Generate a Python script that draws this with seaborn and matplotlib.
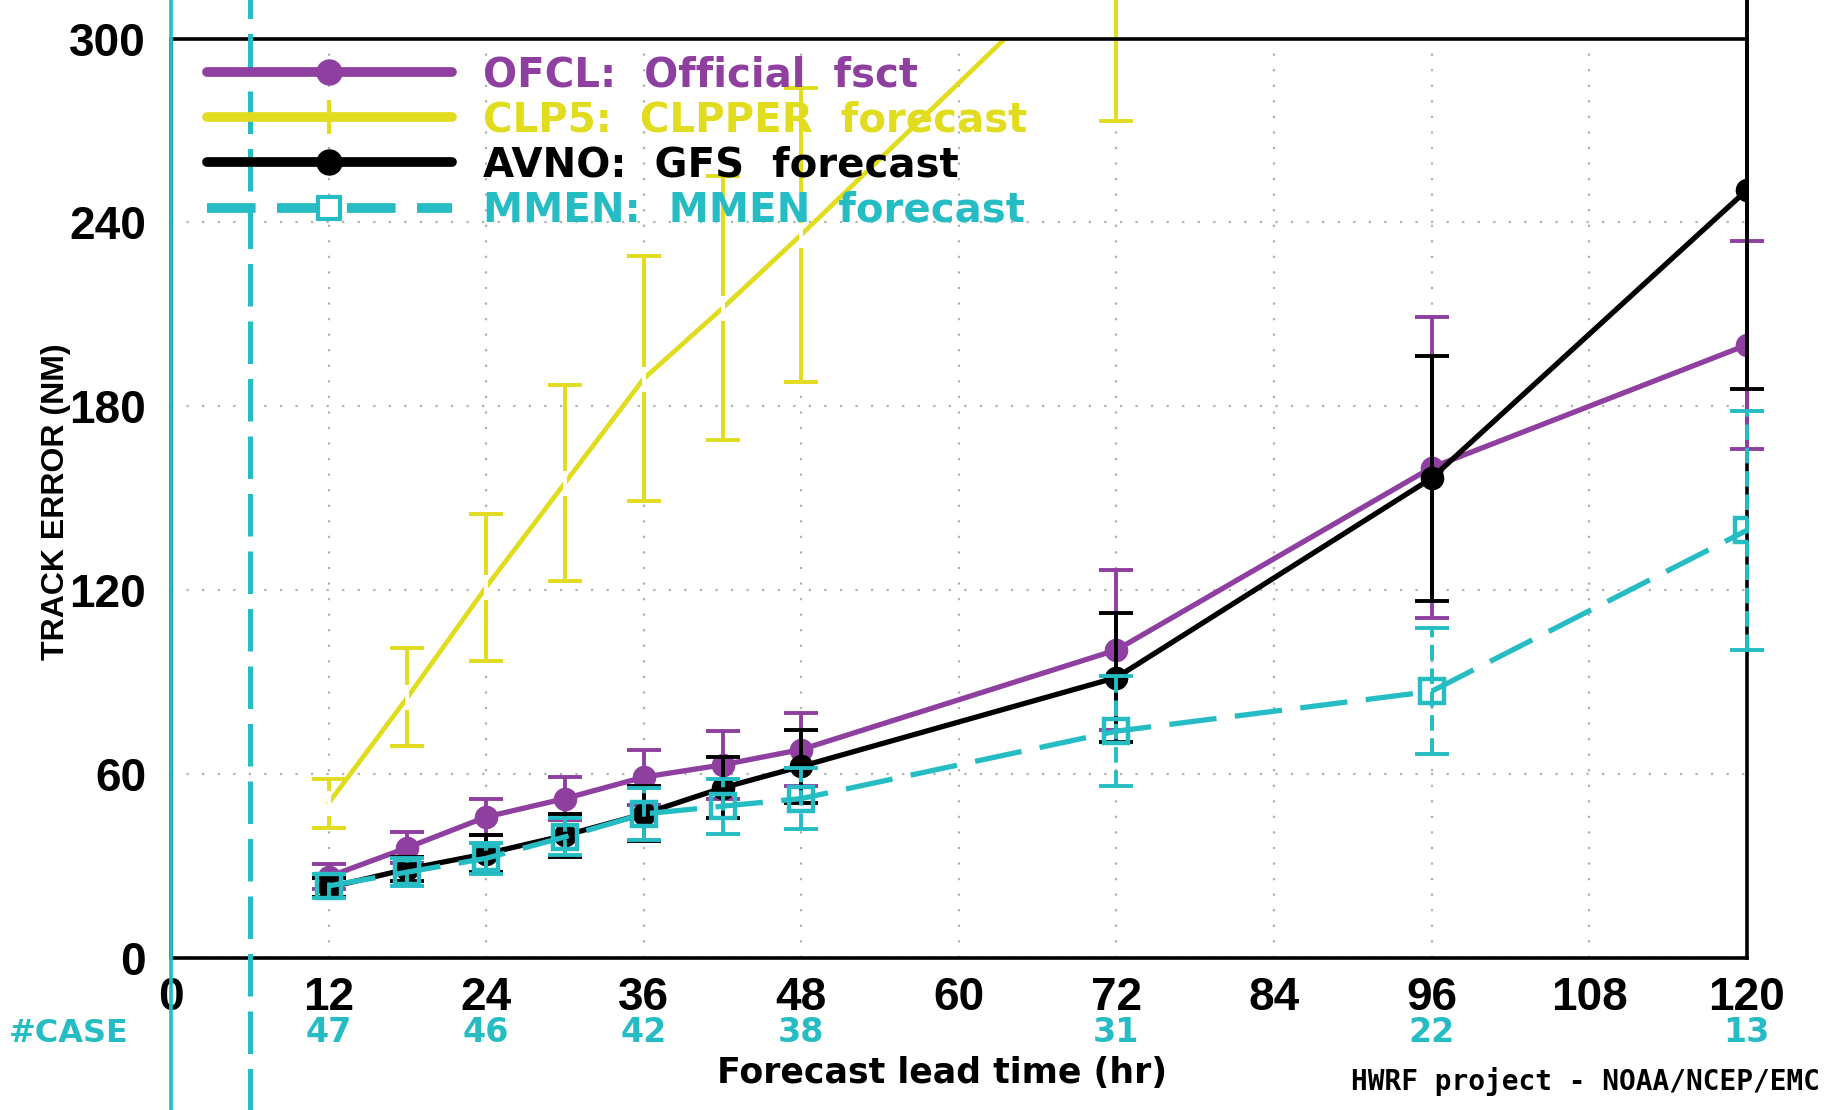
import numpy as np
import pandas as pd
import matplotlib
matplotlib.use("Agg")
import matplotlib.pyplot as plt
import seaborn as sns
from matplotlib.lines import Line2D

# ---------------- data ----------------
lead = [12, 18, 24, 30, 36, 42, 48, 72, 96, 120]
ofcl = [26.5, 36, 46, 52, 59, 63, 68, 100.5, 160, 200]
ofcl_err = [4, 5, 6, 7, 9, 11, 12, 26, 49, 34]
clp5_lead = [12, 18, 24, 30, 36, 42, 48, 72]
clp5 = [50.5, 85, 121, 155, 189, 212, 236, 335]
clp5_err = [8, 16, 24, 32, 40, 43, 48, 62]
avno = [23, 29, 34, 40, 47, 55.5, 62.5, 91.5, 156.5, 250.5]
avno_err = [3, 4, 6, 7, 9, 10, 12, 21, 40, 65]
mmen = [23.5, 28, 32.5, 39.5, 47, 49.5, 52, 74, 87, 139.5]
mmen_err = [4, 4.5, 5, 6, 8.5, 9, 10, 18, 20.5, 39]
case_lead = [12, 24, 36, 48, 72, 96, 120]
case_counts = [47, 46, 42, 38, 31, 22, 13]
xticks = list(range(0, 121, 12))
yticks = [0, 60, 120, 180, 240, 300]
labels = ["OFCL:  Official  fsct", "CLP5:  CLPPER  forecast",
          "AVNO:  GFS  forecast", "MMEN:  MMEN  forecast"]

PURPLE = "#8e3fa0"
YELLOW = "#e2dc1e"
BLACK = "#000000"
CYAN = "#26bcc4"

sns.set_theme(style="white")
plt.rcParams["font.family"] = ["Liberation Sans", "DejaVu Sans"]

fig = plt.figure(figsize=(18.29, 11.10), dpi=100)
ax = fig.add_axes([0.0935, 0.137, 0.8615, 0.8283])

# ---------------- lines ----------------
df_o = pd.DataFrame({"lead": lead, "err": ofcl})
df_c = pd.DataFrame({"lead": clp5_lead, "err": clp5})
df_a = pd.DataFrame({"lead": lead, "err": avno})
df_m = pd.DataFrame({"lead": lead, "err": mmen})

DASH = (0, (9, 3.5))

def ebars(x, y, e, color, z, ls="-"):
    eb = ax.errorbar(x, y, yerr=e, fmt="none", ecolor=color, elinewidth=2.8,
                     capsize=12.5, capthick=2.8, zorder=z)
    for art in eb.lines[1] + eb.lines[2]:
        art.set_clip_on(False)
    for lc in eb.lines[2]:
        lc.set_linestyle(ls)

ebars(clp5_lead, clp5, clp5_err, YELLOW, 2)
ebars(lead, ofcl, ofcl_err, PURPLE, 3)
ebars(lead, avno, avno_err, BLACK, 4)
ebars(lead, mmen, mmen_err, CYAN, 5, ls=(0, (4, 2)))

sns.lineplot(data=df_c, x="lead", y="err", ax=ax, color=YELLOW, lw=3.4,
             marker="|", markersize=18, markeredgewidth=2.8, zorder=2.5)
sns.lineplot(data=df_o, x="lead", y="err", ax=ax, color=PURPLE, lw=3.8,
             marker="o", markersize=17, markeredgewidth=0, zorder=3.5)
sns.lineplot(data=df_a, x="lead", y="err", ax=ax, color=BLACK, lw=3.8,
             marker="o", markersize=17, markeredgewidth=0, zorder=4.5)
sns.lineplot(data=df_m, x="lead", y="err", ax=ax, color=CYAN, lw=3.8,
             linestyle=DASH, marker="s", markersize=17, markerfacecolor="none",
             markeredgecolor=CYAN, markeredgewidth=3.2, zorder=5.5)

# vertical cyan reference lines spanning the whole figure height
ax.axvline(0, ymin=-0.17, ymax=1.05, color=CYAN, lw=2.6, clip_on=False, zorder=8)
ax.axvline(6, ymin=-0.17, ymax=1.05, color=CYAN, lw=3.6,
           linestyle=(0, (8.5, 3)), clip_on=False, zorder=8)

# ---------------- axes styling ----------------
ax.set_xlim(0, 120)
ax.set_ylim(0, 300)
ax.set_xticks(xticks)
ax.set_yticks(yticks)
ax.set_xticklabels([str(t) for t in xticks])
ax.set_yticklabels([str(t) for t in yticks])
ax.tick_params(axis="both", direction="out", length=10, width=2.6,
               color="black", labelsize=33, labelcolor="black")
ax.tick_params(axis="x", pad=3)
ax.tick_params(axis="y", pad=8)
for lab in ax.get_xticklabels() + ax.get_yticklabels():
    lab.set_fontweight("bold")
for s in ax.spines.values():
    s.set_color("black")
    s.set_linewidth(2.6)
    s.set_visible(True)
ax.grid(True, color="#b0b0b0", lw=1.6, ls=(0, (1, 6)))
ax.set_axisbelow(True)
ax.set_xlabel("")
ax.set_ylabel("")

# ---------------- legend ----------------
handles = [
    Line2D([], [], color=PURPLE, lw=7, marker="o", markersize=18),
    Line2D([], [], color=YELLOW, lw=7, marker="|", markersize=24, markeredgewidth=3),
    Line2D([], [], color=BLACK, lw=7, marker="o", markersize=18),
    Line2D([], [], color=CYAN, lw=7, linestyle=(0, (5, 2.2)), marker="s",
           markersize=16, markerfacecolor="white", markeredgecolor=CYAN,
           markeredgewidth=3),
]
leg = ax.legend(handles, labels, loc="upper left", bbox_to_anchor=(0.023, 0.982),
                frameon=False, handlelength=6.07, handletextpad=0.78,
                labelspacing=0.13, borderaxespad=0, borderpad=0, numpoints=1,
                prop={"family": "DejaVu Sans", "weight": "bold", "size": 29})
for txt, c in zip(leg.get_texts(), [PURPLE, YELLOW, BLACK, CYAN]):
    txt.set_color(c)
leg.set_zorder(10)

# ---------------- text annotations ----------------
fig.text(56 / 1829, 1 - 502 / 1110, "TRACK ERROR (NM)", rotation=90,
         ha="center", va="center", fontsize=23, color="black",
         fontweight="bold", family=["Liberation Sans", "DejaVu Sans"])
fig.text(942 / 1829, 1 - 1073 / 1110, "Forecast lead time (hr)",
         ha="center", va="center", fontsize=25, fontweight="bold",
         family=["DejaVu Sans"], color="black")
fig.text(69 / 1829, 1 - 1033 / 1110, "#CASE", ha="center", va="center",
         fontsize=23, fontweight="bold", color=CYAN, family=["DejaVu Sans"])
trans = ax.get_xaxis_transform()
for x, n in zip(case_lead, case_counts):
    ax.text(x, -0.0816, str(n), transform=trans, ha="center", va="center",
            fontsize=24, fontweight="bold", color=CYAN, family=["DejaVu Sans"],
            clip_on=False)
fig.text(1820 / 1829, 1 - 1081 / 1110, "HWRF project - NOAA/NCEP/EMC",
         ha="right", va="center", fontsize=20, fontweight="bold",
         family=["DejaVu Sans Mono", "DejaVu Sans"], color="black")

fig.savefig("out.png", dpi=100)
